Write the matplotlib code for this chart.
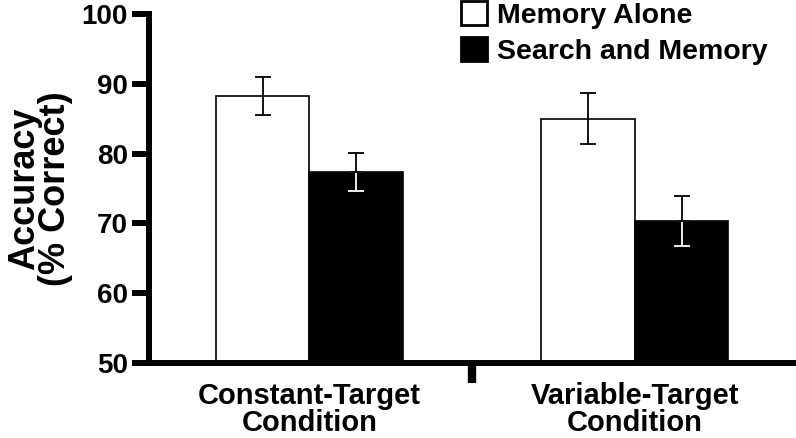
import matplotlib
matplotlib.use("Agg")
import matplotlib.pyplot as plt
import numpy as np

plt.rcParams['font.family'] = ['Liberation Sans', 'DejaVu Sans']
plt.rcParams['font.weight'] = 'bold'

conditions = ["Constant-Target\nCondition", "Variable-Target\nCondition"]
memory_alone = [88.2, 85.0]
memory_alone_err = [2.7, 3.7]
search_memory = [77.4, 70.3]
search_memory_err = [2.75, 3.6]

fig = plt.figure(figsize=(7.96, 4.38), dpi=100)
ax = fig.add_axes([0.1866, 0.1712, 0.8134, 0.797])

x = np.arange(len(conditions))
w = 0.2875

ax.bar(x - w / 2, memory_alone, w, color="white", edgecolor="black",
       linewidth=1.2, label="Memory Alone", zorder=2)
ax.bar(x + w / 2, search_memory, w, color="black", edgecolor="black",
       linewidth=1.2, label="Search and Memory", zorder=2)

ax.errorbar(x - w / 2, memory_alone, yerr=memory_alone_err, fmt="none",
            ecolor="black", elinewidth=1.3, capsize=6, capthick=1.3, zorder=3)
# lower half of the error bar on black bars is white
ax.errorbar(x + w / 2, search_memory, yerr=[search_memory_err, [0, 0]],
            fmt="none", ecolor="white", elinewidth=1.3, capsize=6,
            capthick=1.3, zorder=3)
ax.errorbar(x + w / 2, search_memory, yerr=[[0, 0], search_memory_err],
            fmt="none", ecolor="black", elinewidth=1.3, capsize=6,
            capthick=1.3, zorder=4)

ax.set_xlim(-0.494, 1.495)
ax.set_ylim(50, 100)
ax.set_yticks([50, 60, 70, 80, 90, 100])
ax.tick_params(axis="y", length=12, width=4.3, labelsize=20, pad=3)

ax.set_xticks(x)
ax.set_xticklabels(conditions, fontsize=21, linespacing=0.95)
ax.tick_params(axis="x", which="major", length=0, pad=14)
ax.set_xticks([0.5], minor=True)
ax.tick_params(axis="x", which="minor", length=14.5, width=6, direction="out")

for s in ["top", "right"]:
    ax.spines[s].set_visible(False)
for s in ["left", "bottom"]:
    ax.spines[s].set_linewidth(4.3)

ax.set_ylabel("Accuracy\n(% Correct)", fontsize=26, fontweight="bold",
              linespacing=0.85, labelpad=6)

leg = ax.legend(loc="upper left", bbox_to_anchor=(0.5615, 1.03),
                bbox_transform=fig.transFigure, frameon=False, fontsize=20.5,
                handlelength=0.9, handleheight=0.9, handletextpad=0.35,
                labelspacing=0.3, borderpad=0)
for p in leg.get_patches():
    p.set_linewidth(2)

fig.savefig("out.png", dpi=100)
